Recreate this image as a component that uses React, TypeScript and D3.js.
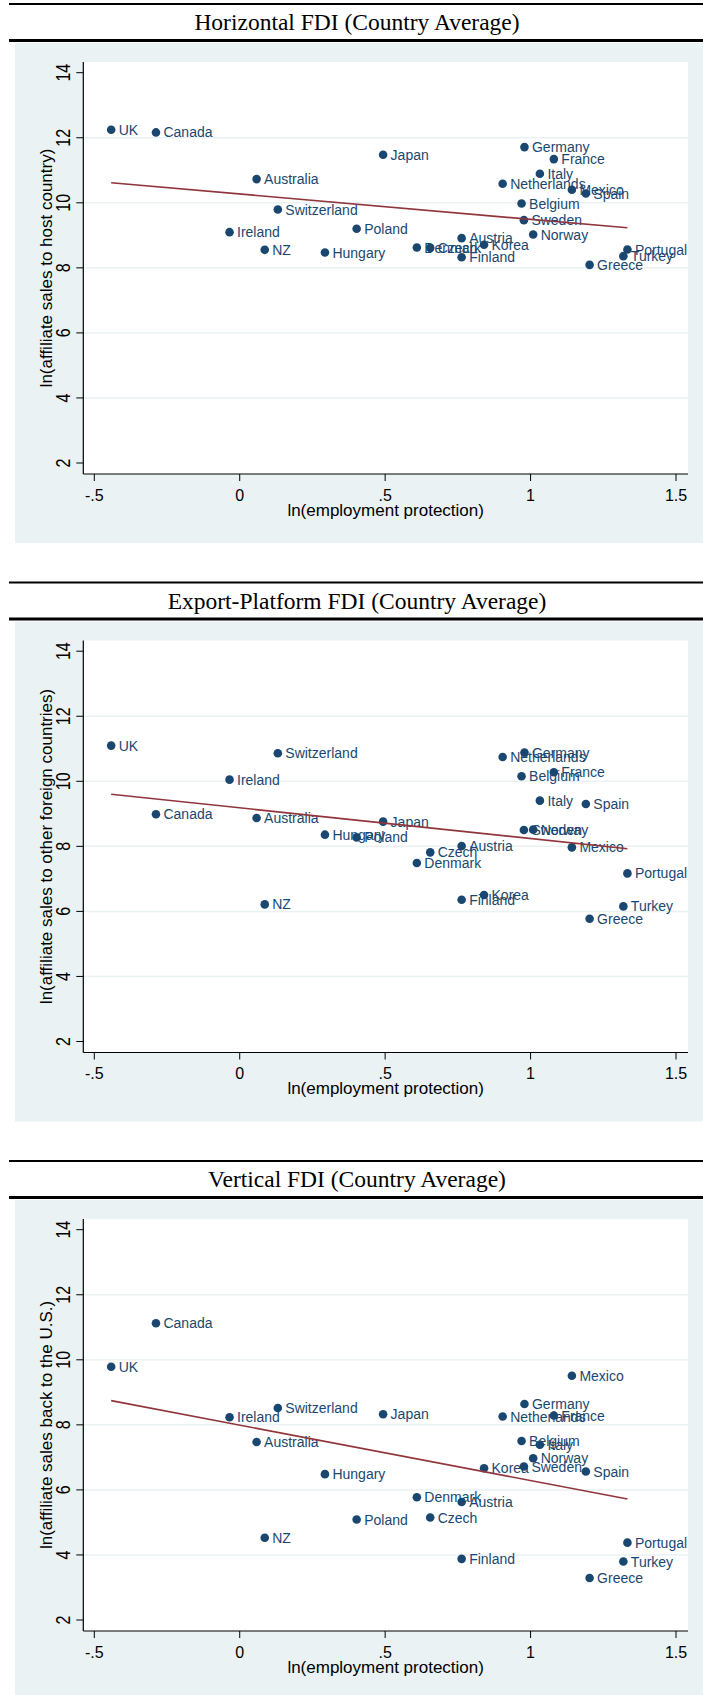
import React from 'react';
import * as d3 from 'd3';

// countries, in the same order in every array below
const countries = ['UK', 'Canada', 'Ireland', 'Australia', 'NZ', 'Switzerland', 'Hungary', 'Poland', 'Japan',
  'Denmark', 'Czech', 'Austria', 'Finland', 'Korea', 'Netherlands', 'Belgium', 'Sweden', 'Germany', 'Norway',
  'Italy', 'France', 'Mexico', 'Spain', 'Greece', 'Turkey', 'Portugal'];

// ln(employment protection)
const empProtection = [-0.442, -0.288, -0.035, 0.058, 0.086, 0.131, 0.293, 0.402, 0.493,
  0.609, 0.655, 0.763, 0.763, 0.840, 0.904, 0.969, 0.977, 0.979, 1.009,
  1.032, 1.080, 1.142, 1.190, 1.203, 1.319, 1.333];

// ln(affiliate sales to host country)
const horizontalSales = [12.246, 12.164, 9.097, 10.728, 8.554, 9.795, 8.472, 9.2, 11.477,
  8.626, 8.615, 8.913, 8.328, 8.708, 10.585, 9.979, 9.467, 11.713, 9.026,
  10.892, 11.344, 10.4, 10.287, 8.092, 8.359, 8.564];

// ln(affiliate sales to other foreign countries)
const exportSales = [11.097, 8.985, 10.051, 8.872, 6.215, 10.862, 8.359, 8.277, 8.759,
  7.487, 7.815, 8.01, 6.359, 6.503, 10.749, 10.154, 8.503, 10.882, 8.513,
  9.405, 10.277, 7.969, 9.303, 5.774, 6.154, 7.169];

// ln(affiliate sales back to the U.S.)
const verticalSales = [9.786, 11.122, 8.235, 7.471, 4.531, 8.52, 6.484, 5.091, 8.327,
  5.772, 5.152, 5.63, 3.88, 6.667, 8.255, 7.502, 6.718, 8.643, 6.973,
  7.39, 8.286, 9.51, 6.566, 3.29, 3.799, 4.378];

// fitted values at the smallest and largest x
const fitHorizontal = [10.615, 9.231];
const fitExport = [9.6, 7.928];
const fitVertical = [8.745, 5.721];

const xTicks = [-0.5, 0, 0.5, 1, 1.5];
const xTickLabels = ['-.5', '0', '.5', '1', '1.5'];
const yTicks = [2, 4, 6, 8, 10, 12, 14];
const yGrid = [4, 6, 8, 10, 12];

const panels = [
  { title: 'Horizontal FDI (Country Average)', ytitle: 'ln(affiliate sales to host country)', values: horizontalSales, fit: fitHorizontal },
  { title: 'Export-Platform FDI (Country Average)', ytitle: 'ln(affiliate sales to other foreign countries)', values: exportSales, fit: fitExport },
  { title: 'Vertical FDI (Country Average)', ytitle: 'ln(affiliate sales back to the U.S.)', values: verticalSales, fit: fitVertical },
];

const W = 703;
const H = 1695;
const PANEL_H = 578.5;
const NAVY = '#1a476f';
const MAROON = '#90353b';
const BG = '#eaf2f3';
const SANS = '"Liberation Sans", Arial, sans-serif';
const SERIF = '"Liberation Serif", "Times New Roman", serif';

const plot = { left: 83.3, right: 688, top: 62, bottom: 474 };
const x = d3.scaleLinear().domain([-0.5, 1.5]).range([94.3, 676]);
const y = d3.scaleLinear().domain([2, 14]).range([463, 72.7]);

function Panel({ p, offset }) {
  const xmin = d3.min(empProtection);
  const xmax = d3.max(empProtection);
  const fitLine = d3.line().x(d => x(d[0])).y(d => y(d[1]))([[xmin, p.fit[0]], [xmax, p.fit[1]]]);
  const midY = (plot.top + plot.bottom) / 2;
  const midX = (plot.left + plot.right) / 2;

  return (
    <g transform={`translate(0, ${offset})`}>
      <line x1={9} x2={W} y1={4} y2={4} stroke="#000" strokeWidth={2} />
      <text x={357} y={30} textAnchor="middle" fontFamily={SERIF} fontSize={23.5} fill="#000">{p.title}</text>
      <line x1={9} x2={W} y1={40.5} y2={40.5} stroke="#000" strokeWidth={3} />

      <rect x={15} y={43} width={W - 15} height={500} fill={BG} />
      <rect x={plot.left} y={plot.top} width={plot.right - plot.left} height={plot.bottom - plot.top} fill="#fff" />

      {yGrid.map(t => (
        <line key={`g${t}`} x1={plot.left} x2={plot.right} y1={y(t)} y2={y(t)} stroke={BG} strokeWidth={1.5} />
      ))}

      {/* axes */}
      <line x1={plot.left} x2={plot.left} y1={plot.top} y2={plot.bottom} stroke="#000" strokeWidth={1.2} />
      <line x1={plot.left} x2={plot.right} y1={plot.bottom} y2={plot.bottom} stroke="#000" strokeWidth={1.2} />

      {yTicks.map(t => (
        <g key={`y${t}`}>
          <line x1={plot.left - 7} x2={plot.left} y1={y(t)} y2={y(t)} stroke="#000" strokeWidth={1} />
          <text transform={`translate(63, ${y(t)}) scale(1.25, 1) rotate(-90)`} textAnchor="middle" dominantBaseline="central"
            fontFamily={SANS} fontSize={16} fill="#000">{t}</text>
        </g>
      ))}
      {xTicks.map((t, i) => (
        <g key={`x${t}`}>
          <line x1={x(t)} x2={x(t)} y1={plot.bottom} y2={plot.bottom + 7} stroke="#000" strokeWidth={1} />
          <text x={x(t)} y={500.5} textAnchor="middle" fontFamily={SANS} fontSize={16} fill="#000">{xTickLabels[i]}</text>
        </g>
      ))}

      <text x={midX} y={515.5} textAnchor="middle" fontFamily={SANS} fontSize={17} fill="#000">ln(employment protection)</text>
      <text transform={`translate(46, ${midY}) rotate(-90)`} textAnchor="middle" dominantBaseline="central"
        fontFamily={SANS} fontSize={17} fill="#000">{p.ytitle}</text>

      {countries.map((c, i) => (
        <g key={c}>
          <circle cx={x(empProtection[i])} cy={y(p.values[i])} r={4.3} fill={NAVY} />
          <text x={x(empProtection[i]) + 7.5} y={y(p.values[i])} dy="0.36em" fontFamily={SANS} fontSize={14} fill={NAVY}>{c}</text>
        </g>
      ))}

      <path d={fitLine} fill="none" stroke={MAROON} strokeWidth={1.6} />
    </g>
  );
}

export default function App() {
  return (
    <svg width={W} height={H} style={{ position: 'absolute', left: 0, top: 0, background: '#fff' }}>
      {panels.map((p, i) => (
        <Panel key={p.title} p={p} offset={i * PANEL_H} />
      ))}
    </svg>
  );
}
